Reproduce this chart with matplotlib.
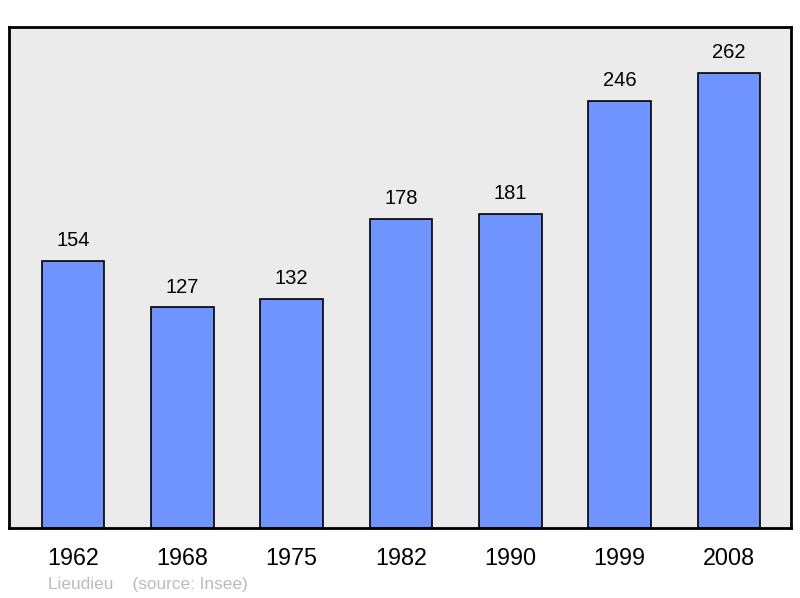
import numpy as np
import matplotlib.pyplot as plt

# data
years = ['1962', '1968', '1975', '1982', '1990', '1999', '2008']
population = [154, 127, 132, 178, 181, 246, 262]

plt.rcParams['font.family'] = ['Liberation Sans', 'DejaVu Sans']

fig = plt.figure(figsize=(8, 5.98), dpi=100)
ax = fig.add_axes([0.01125, 0.117, 0.9775, 0.8378])
ax.set_facecolor('#ebebeb')

x = np.arange(len(years))
ax.bar(x, population, width=0.575, color='#7094ff', edgecolor='black', linewidth=1.2, zorder=2)

for xi, v in zip(x, population):
    ax.text(xi, v + 6, str(v), ha='center', va='bottom', fontsize=14.5, color='black')

ax.set_xlim(-0.585, 6.567)
ax.set_ylim(0, 288.4)
ax.set_xticks(x)
ax.set_xticklabels(years, fontsize=16.8)
ax.tick_params(axis='x', length=0, pad=13.5)
ax.set_yticks([])
for s in ax.spines.values():
    s.set_linewidth(2)
    s.set_color('black')

fig.text(48 / 800, 1 - 585 / 598, 'Lieudieu    (source: Insee)', fontsize=12.4,
         color='#bbbbbb', ha='left', va='center')

fig.savefig('out.png', dpi=100)
